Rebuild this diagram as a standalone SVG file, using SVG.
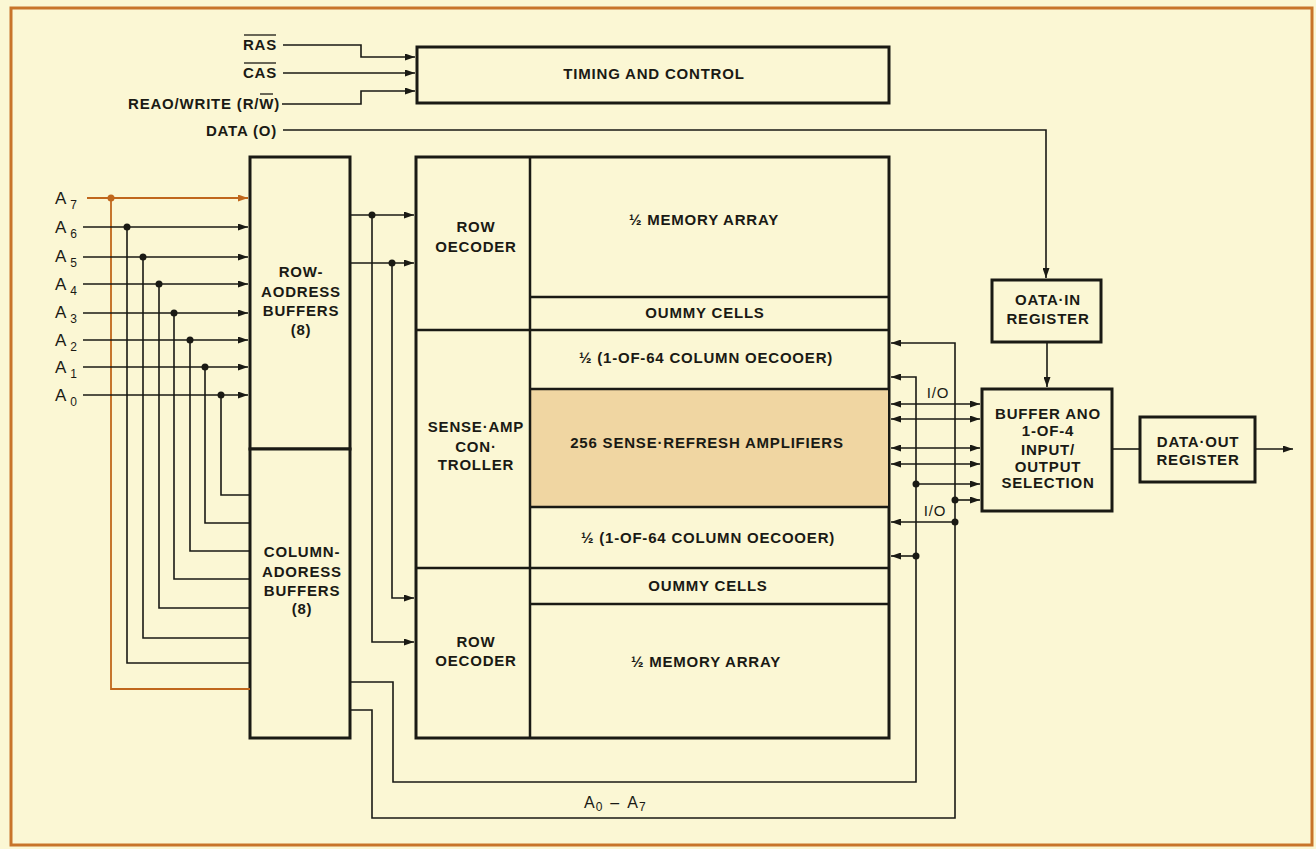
<svg xmlns="http://www.w3.org/2000/svg" width="1316" height="849" viewBox="0 0 1316 849">
<defs>
<style>
.bg{fill:#fbf7d4}
.frame{fill:none;stroke:#c8742a;stroke-width:3}
.box{fill:#fbf7d4;stroke:#1a1a14;stroke-width:3}
.div{fill:none;stroke:#1a1a14;stroke-width:2.5}
.amp{fill:#f0d6a2}
.w{fill:none;stroke:#1a1a14;stroke-width:1.6}
.wo{fill:none;stroke:#c0671c;stroke-width:1.8}
.arr{marker-end:url(#ah)}
.bi{marker-start:url(#ah);marker-end:url(#ah)}
.arro{marker-end:url(#aho)}
.dot{fill:#1a1a14}
.doto{fill:#c0671c}
text{font-family:"Liberation Sans",Arial,sans-serif;font-size:15px;font-weight:bold;fill:#1a1a14;letter-spacing:0.8px}
.c{text-anchor:middle}
.e{text-anchor:end}
.a{font-weight:normal;font-size:17px;letter-spacing:0}
.sub{font-size:12px}
.io{font-weight:normal;font-size:15px}
.ob{stroke:#1a1a14;stroke-width:1.3}
</style>
<marker id="ah" viewBox="0 0 10 7" refX="10" refY="3.5" markerWidth="10" markerHeight="7" markerUnits="userSpaceOnUse" orient="auto-start-reverse"><path d="M0,0 L10,3.5 L0,7 z" fill="#1a1a14"/></marker>
<marker id="aho" viewBox="0 0 10 7" refX="10" refY="3.5" markerWidth="10" markerHeight="7" markerUnits="userSpaceOnUse" orient="auto"><path d="M0,0 L10,3.5 L0,7 z" fill="#c0671c"/></marker>
</defs>
<rect class="bg" x="0" y="0" width="1316" height="849"/>
<rect class="frame" x="11" y="8" width="1301" height="837"/>

<g id="labels">
<text class="e" x="277" y="50">RAS</text>
<line class="ob" x1="244" y1="35" x2="276" y2="35"/>
<text class="e" x="277" y="78">CAS</text>
<line class="ob" x1="244" y1="63" x2="276" y2="63"/>
<text class="e" x="280" y="109">REAO/WRITE (R/W)</text>
<line class="ob" x1="260" y1="94" x2="273" y2="94"/>
<text class="e" x="277" y="136">DATA (O)</text>
<text class="a" x="55" y="204">A<tspan class="sub" dx="4" dy="5">7</tspan></text>
<text class="a" x="55" y="233">A<tspan class="sub" dx="4" dy="5">6</tspan></text>
<text class="a" x="55" y="262">A<tspan class="sub" dx="4" dy="5">5</tspan></text>
<text class="a" x="55" y="290">A<tspan class="sub" dx="4" dy="5">4</tspan></text>
<text class="a" x="55" y="318">A<tspan class="sub" dx="4" dy="5">3</tspan></text>
<text class="a" x="55" y="346">A<tspan class="sub" dx="4" dy="5">2</tspan></text>
<text class="a" x="55" y="373">A<tspan class="sub" dx="4" dy="5">1</tspan></text>
<text class="a" x="55" y="401">A<tspan class="sub" dx="4" dy="5">0</tspan></text>
<text class="a" x="584" y="808" style="font-size:16px">A<tspan class="sub" dx="1" dy="3">0</tspan><tspan dx="8" dy="-3">–</tspan><tspan dx="8">A</tspan><tspan class="sub" dx="1" dy="3">7</tspan></text>
<text class="c io" x="938" y="398">I/O</text>
<text class="c io" x="935" y="516">I/O</text>
</g>

<g id="timing">
<rect class="box" x="417" y="47" width="472" height="56"/>
<text class="c" x="654" y="79">TIMING AND CONTROL</text>
</g>

<g id="row-address-buffers">
<rect class="box" x="250" y="157" width="100" height="292"/>
<text class="c" x="301" y="277">ROW-</text>
<text class="c" x="301" y="297">AODRESS</text>
<text class="c" x="301" y="316">BUFFERS</text>
<text class="c" x="301" y="335">(8)</text>
</g>

<g id="column-address-buffers">
<rect class="box" x="250" y="449" width="100" height="289"/>
<text class="c" x="302" y="557">COLUMN-</text>
<text class="c" x="302" y="577">ADORESS</text>
<text class="c" x="302" y="596">BUFFERS</text>
<text class="c" x="302" y="614">(8)</text>
</g>

<g id="memory">
<rect class="box" x="416" y="157" width="473" height="581"/>
<rect class="amp" x="531" y="389" width="357" height="118"/>
<line class="div" x1="530" y1="157" x2="530" y2="738"/>
<line class="div" x1="530" y1="297" x2="889" y2="297"/>
<line class="div" x1="416" y1="330" x2="889" y2="330"/>
<line class="div" x1="530" y1="389" x2="889" y2="389"/>
<line class="div" x1="530" y1="507" x2="889" y2="507"/>
<line class="div" x1="416" y1="568" x2="889" y2="568"/>
<line class="div" x1="530" y1="604" x2="889" y2="604"/>
</g>

<g id="row-decoder-top">
<text class="c" x="476" y="232">ROW</text>
<text class="c" x="476" y="252">OECODER</text>
</g>
<g id="memory-array-top"><text class="c" x="704" y="225">½ MEMORY ARRAY</text></g>
<g id="dummy-cells-top"><text class="c" x="705" y="318">OUMMY CELLS</text></g>
<g id="column-decoder-top"><text class="c" x="706" y="363">½ (1-OF-64 COLUMN OECOOER)</text></g>
<g id="sense-amp-controller">
<text class="c" x="476" y="432">SENSE·AMP</text>
<text class="c" x="476" y="452">CON·</text>
<text class="c" x="476" y="470">TROLLER</text>
</g>
<g id="sense-amplifiers"><text class="c" x="707" y="448">256 SENSE·REFRESH AMPLIFIERS</text></g>
<g id="column-decoder-bottom"><text class="c" x="708" y="543">½ (1-OF-64 COLUMN OECOOER)</text></g>
<g id="dummy-cells-bottom"><text class="c" x="708" y="591">OUMMY CELLS</text></g>
<g id="row-decoder-bottom">
<text class="c" x="476" y="647">ROW</text>
<text class="c" x="476" y="666">OECODER</text>
</g>
<g id="memory-array-bottom"><text class="c" x="706" y="667">½ MEMORY ARRAY</text></g>

<g id="data-in-register">
<rect class="box" x="992" y="280" width="109" height="62"/>
<text class="c" x="1048" y="305">OATA·IN</text>
<text class="c" x="1048" y="324">REGISTER</text>
</g>

<g id="buffer-io">
<rect class="box" x="982" y="389" width="130" height="122"/>
<text class="c" x="1048" y="419">BUFFER ANO</text>
<text class="c" x="1048" y="436">1-OF-4</text>
<text class="c" x="1048" y="455">INPUT/</text>
<text class="c" x="1048" y="472">OUTPUT</text>
<text class="c" x="1048" y="488">SELECTION</text>
</g>

<g id="data-out-register">
<rect class="box" x="1140" y="417" width="115" height="65"/>
<text class="c" x="1198" y="447">DATA·OUT</text>
<text class="c" x="1198" y="465">REGISTER</text>
</g>

<g id="connectors">
<path class="w arr" d="M283,45 H361 V57 H415"/>
<path class="w arr" d="M283,73 H415"/>
<path class="w arr" d="M282,104 H361 V91 H415"/>
<path class="w arr" d="M283,130 H1046 V278"/>
<path class="w arr" d="M1047,342 V387"/>
<path class="w" d="M1112,449 H1140"/>
<path class="w arr" d="M1255,449 H1293"/>

<path class="wo arro" d="M87,198 H248"/>
<path class="wo" d="M111,198 V689 H250"/>
<circle class="doto" cx="111" cy="198" r="3.5"/>
<path class="w arr" d="M83,227 H248"/>
<path class="w" d="M127,227 V663 H250"/>
<circle class="dot" cx="127" cy="227" r="3.5"/>
<path class="w arr" d="M83,257 H248"/>
<path class="w" d="M143,257 V638 H250"/>
<circle class="dot" cx="143" cy="257" r="3.5"/>
<path class="w arr" d="M83,284 H248"/>
<path class="w" d="M159,284 V608 H250"/>
<circle class="dot" cx="159" cy="284" r="3.5"/>
<path class="w arr" d="M83,313 H248"/>
<path class="w" d="M174,313 V579 H250"/>
<circle class="dot" cx="174" cy="313" r="3.5"/>
<path class="w arr" d="M83,340 H248"/>
<path class="w" d="M190,340 V551 H250"/>
<circle class="dot" cx="190" cy="340" r="3.5"/>
<path class="w arr" d="M83,367 H248"/>
<path class="w" d="M205,367 V523 H250"/>
<circle class="dot" cx="205" cy="367" r="3.5"/>
<path class="w arr" d="M83,395 H248"/>
<path class="w" d="M221,395 V495 H250"/>
<circle class="dot" cx="221" cy="395" r="3.5"/>

<path class="w arr" d="M351,215 H414"/>
<path class="w arr" d="M372,215 V642 H414"/>
<circle class="dot" cx="372" cy="215" r="3.5"/>
<path class="w arr" d="M351,263 H414"/>
<path class="w arr" d="M392,263 V598 H414"/>
<circle class="dot" cx="392" cy="263" r="3.5"/>

<path class="w arr" d="M351,682 H393 V782 H916 V377 H891"/>
<path class="w arr" d="M351,710 H372 V818 H955 V343 H891"/>

<path class="w bi" d="M891,404 H980"/>
<path class="w bi" d="M891,419 H980"/>
<path class="w bi" d="M891,448 H980"/>
<path class="w bi" d="M891,464 H980"/>
<path class="w arr" d="M916,484 H980"/>
<circle class="dot" cx="916" cy="484" r="3.5"/>
<path class="w arr" d="M955,500 H980"/>
<circle class="dot" cx="955" cy="500" r="3.5"/>
<path class="w arr" d="M955,522 H891"/>
<circle class="dot" cx="955" cy="522" r="3.5"/>
<path class="w arr" d="M916,556 H891"/>
<circle class="dot" cx="916" cy="556" r="3.5"/>
</g>
</svg>
